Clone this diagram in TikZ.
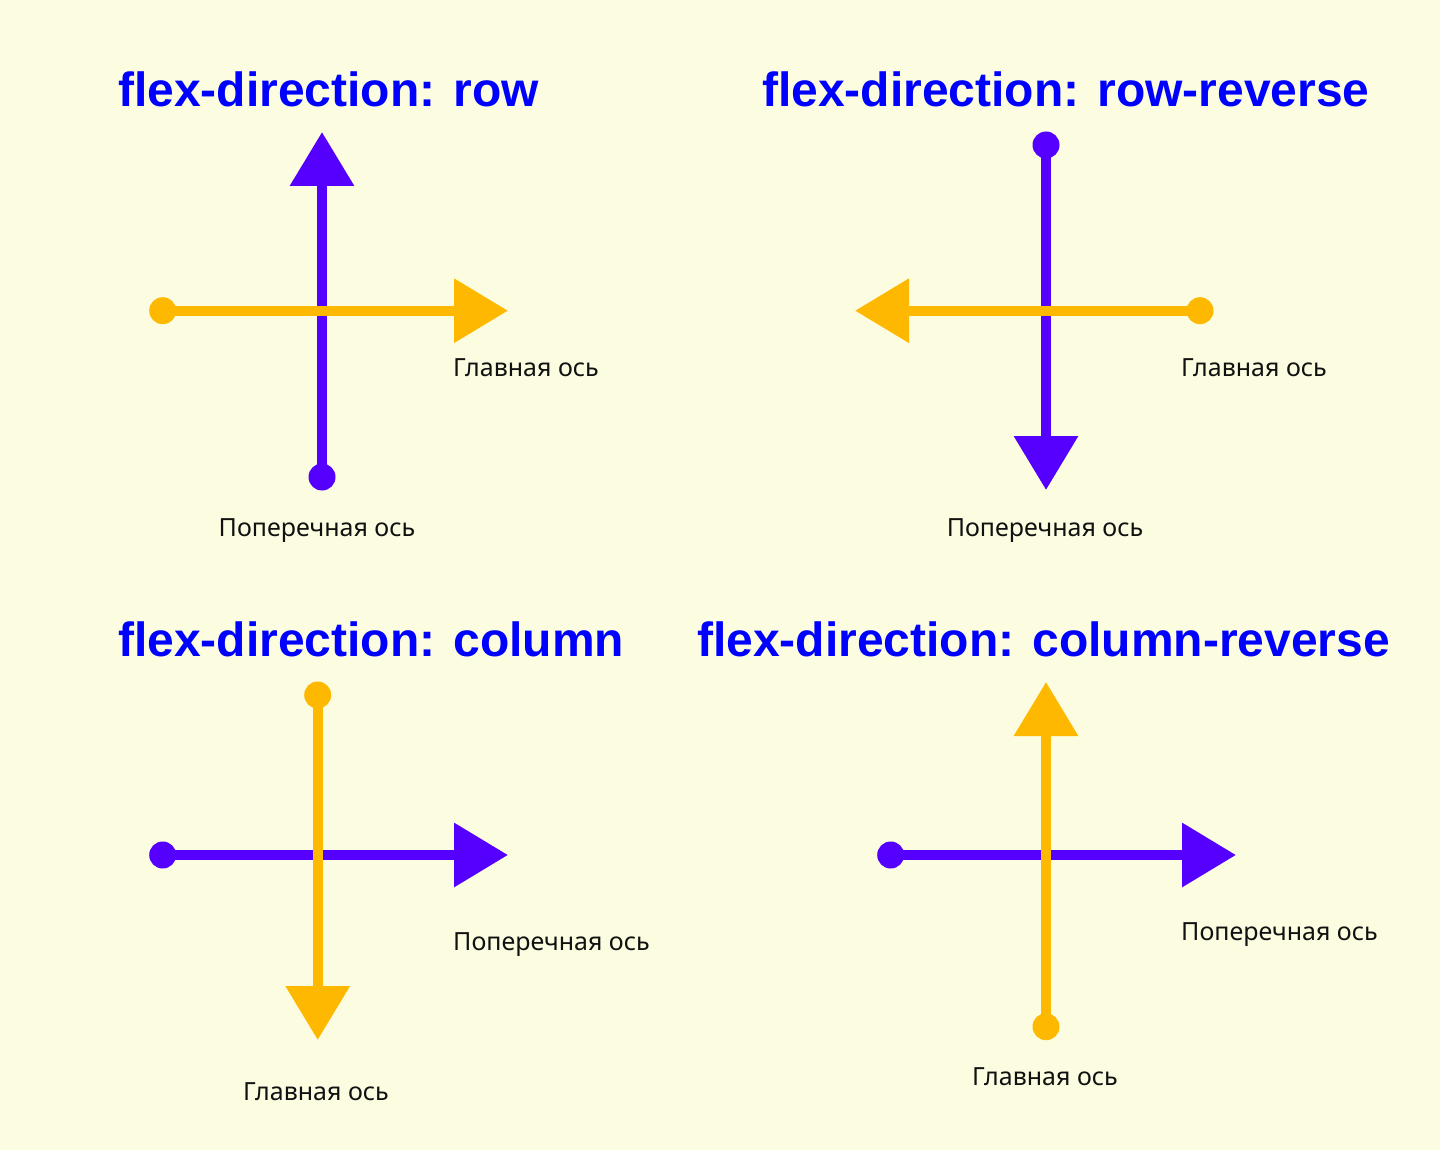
\documentclass[tikz,border=0pt]{standalone}
\usepackage{fontspec}
\setmainfont{Noto Sans}
\newfontfamily\ttlfont{Liberation Sans}
\usetikzlibrary{arrows.meta}
\definecolor{bg}{HTML}{FCFDE0}
\definecolor{axpurple}{HTML}{5500FF}
\definecolor{axorange}{HTML}{FFB800}
\definecolor{ttl}{HTML}{0000FF}
\definecolor{lbltext}{HTML}{111111}
\begin{document}
\begin{tikzpicture}[x=1pt,y=-1pt,
  ttlstyle/.style={anchor=base west, text=ttl, font=\ttlfont\fontsize{48}{58}\selectfont\bfseries, inner sep=0pt},
  lbl/.style={font=\fontsize{25}{30}\selectfont, text=lbltext, inner sep=0pt},
  dotp/.style={circle, fill=axpurple, minimum size=27pt, inner sep=0pt},
  doto/.style={circle, fill=axorange, minimum size=27pt, inner sep=0pt},
  axisp/.style={draw=axpurple, line width=10pt, -{Triangle[length=54pt,width=62pt]}},
  axiso/.style={draw=axorange, line width=10pt, -{Triangle[length=54pt,width=62pt]}}
]
\fill[bg] (0,0) rectangle (1440,1150);
\useasboundingbox (0,0) rectangle (1440,1150);

% Titles
\node[ttlstyle] (t1) at (118,106.7) {flex-direction: row};
\node[ttlstyle] (t2) at (762,106.7) {flex-direction: row-reverse};
\node[ttlstyle] (t3) at (118,656.7) {flex-direction: column};
\node[ttlstyle] (t4) at (697,656.7) {flex-direction: column-reverse};

% Panel 1: row
\node[dotp] (p1s) at (322,477) {};
\coordinate (p1e) at (322,132);
\draw[axisp] (p1s.center) -- (p1e);
\node[doto] (o1s) at (162.7,310.7) {};
\coordinate (o1e) at (508,310.7);
\draw[axiso] (o1s.center) -- (o1e);
\node[lbl, anchor=base west] (m1) at (453,376) {Главная ось};
\node[lbl, anchor=base] (c1) at (317,536) {Поперечная ось};

% Panel 2: row-reverse
\node[dotp] (p2s) at (1046,145) {};
\coordinate (p2e) at (1046,490);
\draw[axisp] (p2s.center) -- (p2e);
\node[doto] (o2s) at (1200,310.7) {};
\coordinate (o2e) at (855,310.7);
\draw[axiso] (o2s.center) -- (o2e);
\node[lbl, anchor=base west] (m2) at (1181,376) {Главная ось};
\node[lbl, anchor=base] (c2) at (1045,536) {Поперечная ось};

% Panel 3: column
\node[dotp] (p3s) at (162.7,855) {};
\coordinate (p3e) at (508,855);
\draw[axisp] (p3s.center) -- (p3e);
\node[doto] (o3s) at (317.7,695) {};
\coordinate (o3e) at (317.7,1040);
\draw[axiso] (o3s.center) -- (o3e);
\node[lbl, anchor=base west] (c3) at (453,950) {Поперечная ось};
\node[lbl, anchor=base] (m3) at (316,1100) {Главная ось};

% Panel 4: column-reverse
\node[dotp] (p4s) at (890.7,855) {};
\coordinate (p4e) at (1236,855);
\draw[axisp] (p4s.center) -- (p4e);
\node[doto] (o4s) at (1046,1026.7) {};
\coordinate (o4e) at (1046,682);
\draw[axiso] (o4s.center) -- (o4e);
\node[lbl, anchor=base west] (c4) at (1181,940) {Поперечная ось};
\node[lbl, anchor=base] (m4) at (1045,1085) {Главная ось};
\end{tikzpicture}
\end{document}
